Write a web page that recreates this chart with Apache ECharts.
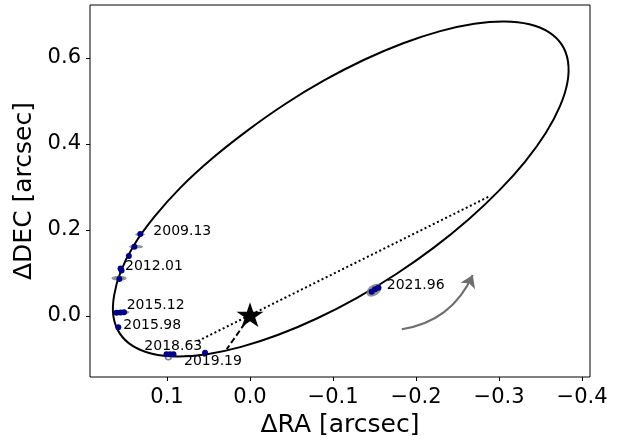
<!DOCTYPE html>
<html>
<head>
<meta charset="utf-8">
<script src="https://cdn.jsdelivr.net/npm/echarts@6/dist/echarts.min.js"></script>
<style>html,body{margin:0;padding:0;background:#fff;}#c{width:617px;height:444px;}</style>
</head>
<body>
<div id="c"></div>
<script>
// ---- data (arcsec) ----
const orbitRA = [-0.3756,-0.3599,-0.3366,-0.3065,-0.2703,-0.2292,-0.1845,-0.1375,-0.0897,-0.0424,0.0028,0.0457,0.0838,0.1151,0.1397,0.1558,0.1638,0.1646,0.1570,0.1414,0.1181,0.0879,0.0517,0.0107,-0.0341,-0.0811,-0.1289,-0.1762,-0.2214,-0.2632,-0.3003,-0.3317,-0.3563,-0.3733,-0.3824,-0.3831];
const orbitDEC = [0.6311,0.6603,0.6785,0.6850,0.6796,0.6626,0.6344,0.5959,0.5483,0.4930,0.4317,0.3662,0.2986,0.2309,0.1652,0.1034,0.0474,-0.0010,-0.0404,-0.0696,-0.0878,-0.0943,-0.0889,-0.0719,-0.0437,-0.0052,0.0424,0.0977,0.1590,0.2245,0.2921,0.3598,0.4255,0.4873,0.5433,0.5917];

const obsRA  = [0.1322,0.1394,0.1460,0.1560,0.1548,0.1575,0.1608,0.1560,0.1518,0.1587,0.1006,0.0964,0.0922,0.0542,-0.1466,-0.1506,-0.1546];
const obsDEC = [0.1907,0.1612,0.1395,0.1105,0.1058,0.0860,0.0077,0.0081,0.0086,-0.0263,-0.0891,-0.0891,-0.0891,-0.0853,0.0565,0.0621,0.0658];

const errRA    = [0.1325,0.1373,0.1578,0.1527,0.0984,-0.1494];
const errDEC   = [0.1895,0.1612,0.0877,0.0086,-0.0947,0.0600];
const errHalfRA  = [0.0060,0.0084,0.0090,0.0072,0.0036,0.0100];
const errHalfDEC = [0.0035,0.0040,0.0058,0.0040,0.0070,0.0125];
const errPA      = [0,0,0,0,0,35];
const errOpen    = [0,0,0,0,1,0];

const epochLabels = ['2009.13','2012.01','2015.12','2015.98','2018.63','2019.19','2021.96'];
const labelRA  = [0.1165,0.1506,0.1486,0.1527,0.1273,0.0795,-0.1647];
const labelDEC = [0.1960,0.1147,0.0256,-0.0209,-0.0698,-0.1047,0.0721];

const nodesRA = [0.0627,-0.2892], nodesDEC = [-0.0581,0.2791];
const periRA = [0,0.028], periDEC = [0,-0.077];
const starRA = [0], starDEC = [0];
const arrowRA = [-0.1828,-0.2683], arrowDEC = [-0.0309,0.0953];

const xTicks = [0.1,0,-0.1,-0.2,-0.3,-0.4];
const yTicks = [0,0.2,0.4,0.6];
const xRange = [-0.4096,0.1928], yRange = [-0.1419,0.7233];

// ---- chart ----
const zip = (a,b) => a.map((v,i)=>[v,b[i]]);
const fmt = v => (v < -1e-9 ? '\u2212' : '') + Math.abs(v).toFixed(1);
const FONT = 'DejaVu Sans';
const STAR = 'path://M0,-1 L0.2245,-0.309 L0.9511,-0.309 L0.3633,0.118 L0.5878,0.809 L0,0.382 L-0.5878,0.809 L-0.3633,0.118 L-0.9511,-0.309 L-0.2245,-0.309 Z';

const chart = echarts.init(document.getElementById('c'), null, {renderer:'canvas'});
chart.setOption({
  animation:false,
  backgroundColor:'#fff',
  grid:{left:90,right:27,top:5,bottom:67,show:true,borderColor:'#000',borderWidth:1},
  xAxis:{type:'value',inverse:true,min:xRange[0],max:xRange[1],
    name:'\u0394RA [arcsec]',nameLocation:'middle',nameGap:32,
    nameTextStyle:{fontFamily:FONT,fontSize:25,color:'#000'},
    axisLine:{show:false,onZero:false},
    axisTick:{show:true,inside:false,length:4,customValues:xTicks,lineStyle:{color:'#000',width:1}},
    axisLabel:{customValues:xTicks,formatter:fmt,fontFamily:FONT,fontSize:21,color:'#000',margin:10},
    splitLine:{show:false}},
  yAxis:{type:'value',min:yRange[0],max:yRange[1],
    name:'\u0394DEC [arcsec]',nameLocation:'middle',nameGap:52,
    nameTextStyle:{fontFamily:FONT,fontSize:25,color:'#000'},
    axisLine:{show:false,onZero:false},
    axisTick:{show:true,inside:false,length:4,customValues:yTicks,lineStyle:{color:'#000',width:1}},
    axisLabel:{customValues:yTicks,formatter:fmt,fontFamily:FONT,fontSize:21,color:'#000',margin:9},
    splitLine:{show:false}},
  series:[
    {type:'custom',z:2,silent:true,clip:true,
     data:zip(orbitRA,orbitDEC),
     renderItem:(params,api)=>{
       if (params.dataIndex !== 0) return null;
       const pts = orbitRA.map((v,i)=>api.coord([v,orbitDEC[i]]));
       return {type:'polygon',shape:{points:pts,smooth:0.33},
         style:{fill:'none',stroke:'#000',lineWidth:2}};
     }},
    {type:'line',data:zip(nodesRA,nodesDEC),showSymbol:false,
     lineStyle:{color:'#000',width:2,type:[2,2.6]},z:2,silent:true},
    {type:'line',data:zip(periRA,periDEC),showSymbol:false,
     lineStyle:{color:'#000',width:2,type:[6,3]},z:2,silent:true},
    {type:'custom',z:3,silent:true,
     data:errRA.map((v,i)=>[v,errDEC[i],errHalfRA[i],errHalfDEC[i],errPA[i],errOpen[i]]),
     renderItem:(params,api)=>{
       const c = api.coord([api.value(0),api.value(1)]);
       const s = api.size([api.value(2),api.value(3)]);
       const open = api.value(5) === 1;
       return {type:'ellipse',shape:{cx:c[0],cy:c[1],rx:s[0],ry:s[1]},
         rotation:api.value(4)*Math.PI/180,originX:c[0],originY:c[1],
         style: open ? {fill:'none',stroke:'#808080',lineWidth:1.6}
                     : {fill:'rgba(128,128,128,0.85)',stroke:'none'}};
     }},
    {type:'scatter',data:zip(obsRA,obsDEC),symbol:'circle',symbolSize:6,
     itemStyle:{color:'#00008b',opacity:1},z:4,silent:true},
    {type:'scatter',data:zip(starRA,starDEC),symbol:STAR,symbolSize:[27,26],symbolKeepAspect:true,
     symbolOffset:[0,-1.3],itemStyle:{color:'#000',opacity:1},z:5,silent:true},
    {type:'scatter',data:zip(labelRA,labelDEC),symbolSize:0,z:6,silent:true,
     itemStyle:{opacity:1},
     label:{show:true,position:[0,0],align:'left',verticalAlign:'middle',
       formatter:p=>epochLabels[p.dataIndex],fontFamily:FONT,fontSize:14,color:'#000'}},
    {type:'lines',coordinateSystem:'cartesian2d',z:4,silent:true,
     symbol:['none','arrow'],symbolSize:12,
     lineStyle:{color:'#6e6e6e',width:2,curveness:-0.27,opacity:1},
     data:[{coords:zip(arrowRA,arrowDEC)}]}
  ]
});
</script>
</body>
</html>
